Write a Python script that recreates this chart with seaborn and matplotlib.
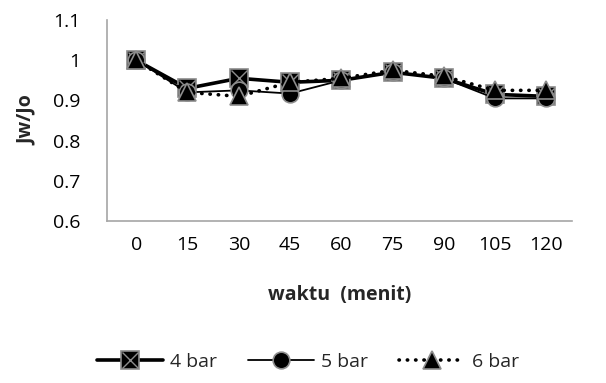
import matplotlib
matplotlib.use("Agg")
import matplotlib.pyplot as plt
import seaborn as sns
import pandas as pd
from matplotlib.lines import Line2D
from matplotlib.legend_handler import HandlerTuple

waktu = ["0", "15", "30", "45", "60", "75", "90", "105", "120"]
bar4 = [1.0, 0.93, 0.955, 0.945, 0.95, 0.97, 0.955, 0.915, 0.91]
bar5 = [1.0, 0.92, 0.925, 0.917, 0.95, 0.97, 0.955, 0.905, 0.905]
bar6 = [1.0, 0.92, 0.91, 0.945, 0.955, 0.975, 0.96, 0.925, 0.925]

sns.set_theme(style="white")
plt.rcParams['font.family'] = ['Open Sans', 'DejaVu Sans']
FS = 14

fig = plt.figure(figsize=(6.06, 3.83), dpi=100)
ax = fig.add_axes([107/606, 1-221/383, (572-107)/606, (221-20)/383])

pos = list(range(len(waktu)))
df = pd.DataFrame({"pos": pos, "b4": bar4, "b5": bar5, "b6": bar6})

edge = "#8c8c8c"
MS = 13
sns.lineplot(data=df, x="pos", y="b4", ax=ax, color="black", lw=2.6,
             marker="s", markersize=MS, markerfacecolor="black",
             markeredgecolor=edge, markeredgewidth=1.2, zorder=3)
ax.plot(df["pos"], df["b4"], ls="none", marker="x", markersize=MS - 2,
        markeredgecolor=edge, markeredgewidth=1.0, zorder=3.1)
sns.lineplot(data=df, x="pos", y="b5", ax=ax, color="black", lw=1.3,
             marker="o", markersize=MS - 1, markerfacecolor="black",
             markeredgecolor=edge, markeredgewidth=1.2, zorder=4)
sns.lineplot(data=df, x="pos", y="b6", ax=ax, color="black", lw=2.6,
             linestyle=(0, (0.1, 2.2)), dash_capstyle="round",
             marker="^", markersize=MS, markerfacecolor="black",
             markeredgecolor=edge, markeredgewidth=1.2, zorder=5)

ax.set_xlim(-0.57, 8.5)
ax.set_ylim(0.6, 1.1)
ax.set_xticks(pos)
ax.set_xticklabels(waktu)
ax.set_yticks([0.6, 0.7, 0.8, 0.9, 1.0, 1.1])
ax.set_yticklabels(["0.6", "0.7", "0.8", "0.9", "1", "1.1"])
ax.tick_params(axis="both", length=0, labelsize=FS, colors="black")
ax.tick_params(axis="y", pad=19)
ax.tick_params(axis="x", pad=11)
for s in ["top", "right"]:
    ax.spines[s].set_visible(False)
for s in ["left", "bottom"]:
    ax.spines[s].set_color("#a6a6a6")
    ax.spines[s].set_linewidth(1.2)
ax.set_xlabel("waktu  (menit)", fontsize=FS, fontweight="bold", labelpad=22)
ax.set_ylabel("Jw/Jo", fontsize=FS, fontweight="bold", labelpad=12)

h4a = Line2D([], [], color="black", lw=2.6, marker="s", markersize=MS,
             markerfacecolor="black", markeredgecolor=edge, markeredgewidth=1.2)
h4b = Line2D([], [], ls="none", marker="x", markersize=MS - 2,
             markeredgecolor=edge, markeredgewidth=1.0)
h5 = Line2D([], [], color="black", lw=1.3, marker="o", markersize=MS - 1,
            markerfacecolor="black", markeredgecolor=edge, markeredgewidth=1.2)
h6 = Line2D([], [], color="black", lw=2.6, linestyle=(0, (0.1, 2.2)),
            dash_capstyle="round", marker="^", markersize=MS,
            markerfacecolor="black", markeredgecolor=edge, markeredgewidth=1.2)
fig.legend([(h4a, h4b), h5, h6], ["4 bar", "5 bar", "6 bar"],
           handler_map={tuple: HandlerTuple(ndivide=1)},
           loc="center", bbox_to_anchor=(308/606, 1-362/383), ncol=3,
           frameon=False, fontsize=FS, handlelength=3.4,
           columnspacing=1.6, handletextpad=0.35)

fig.savefig("out.png", dpi=100)
